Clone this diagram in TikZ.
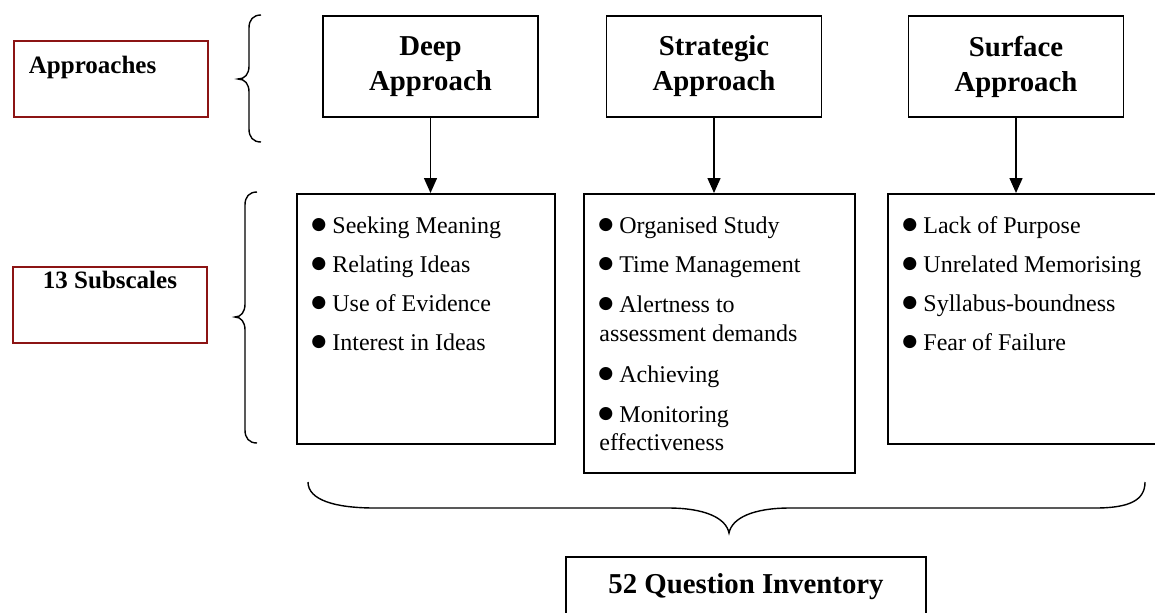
\documentclass[tikz,border=0pt]{standalone}
\usepackage{fontspec}
\setmainfont{Liberation Serif}
\newfontfamily\symfont{DejaVu Sans}
\usetikzlibrary{arrows.meta}
\definecolor{boxred}{RGB}{140,20,20}
\newcommand{\bul}{\raisebox{1.6pt}{\symfont\fontsize{8.6}{10}\selectfont ●}\hspace{3pt}}
\tikzset{
	headbox/.style={draw,line width=0.9pt,minimum width=107.5pt,minimum height=50.5pt,inner sep=0pt,align=center,font=\fontsize{14.4}{17.5}\selectfont\bfseries},
	listbox/.style={draw,line width=0.9pt,anchor=north west,inner sep=0pt},
	sidebox/.style={draw=boxred,line width=0.9pt,inner sep=0pt,font=\fontsize{12.5}{15}\selectfont\bfseries},
	item/.style={anchor=base west,inner sep=0pt,font=\fontsize{12}{14}\selectfont},
	brace/.style={line width=0.7pt},
	link/.style={line width=0.7pt,-{Triangle[width=6.5pt,length=7.5pt]}}
}
\begin{document}
\begin{tikzpicture}[x=0.5pt,y=-0.5pt]
	\useasboundingbox (0,0) rectangle (1155,612);
	\clip (0,0) rectangle (1155,612);
	% labels on the left
	\node[sidebox,anchor=base west,inner xsep=7.5pt,text width=82pt,align=left,text height=16pt,text depth=22pt] (approaches) at (13,73) {Approaches};
	\node[sidebox,anchor=base,minimum width=97pt,text height=10.5pt,text depth=27.5pt] (subscales) at (110,288) {13 Subscales};
	\draw[brace] (261,15) .. controls (253,15) and (249,20) .. (249,28) -- (249,66) .. controls (249,74) and (245,79) .. (238,79) .. controls (245,79) and (249,84) .. (249,92) -- (249,129) .. controls (249,137) and (253,142) .. (261,142);
	\draw[brace] (257,192) .. controls (249,192) and (245,197) .. (245,205) -- (245,304) .. controls (245,312) and (241,317) .. (235,317) .. controls (241,317) and (245,322) .. (245,330) -- (245,430) .. controls (245,438) and (249,443) .. (257,443);
	% approaches
	\node[headbox] (deep) at (430.5,66.5) {Deep\\Approach};
	\node[headbox] (strategic) at (714,66.5) {Strategic\\Approach};
	\node[headbox] (surface) at (1016,66.5) {Surface\\Approach};
	% subscale boxes
	\node[listbox,minimum width=129pt,minimum height=125pt] (deeplist) at (296,193) {};
	\node[listbox,minimum width=135.5pt,minimum height=139.5pt] (stratlist) at (583,193) {};
	\node[listbox,minimum width=139pt,minimum height=125pt] (surflist) at (887,193) {};
	\draw[link] (deep.south) -- (deep.south |- deeplist.north);
	\draw[link] (strategic.south) -- (strategic.south |- stratlist.north);
	\draw[link] (surface.south) -- (surface.south |- surflist.north);
	\node[item] (d1) at (311,233) {\bul Seeking Meaning};
	\node[item] (d2) at (311,272) {\bul Relating Ideas};
	\node[item] (d3) at (311,311) {\bul Use of Evidence};
	\node[item] (d4) at (311,350) {\bul Interest in Ideas};
	\node[item] (s1) at (598,233) {\bul Organised Study};
	\node[item] (s2) at (598,272) {\bul Time Management};
	\node[item] (s3) at (598,312) {\bul Alertness to};
	\node[item] (s4) at (599,341) {assessment demands};
	\node[item] (s5) at (598,382) {\bul Achieving};
	\node[item] (s6) at (598,422) {\bul Monitoring};
	\node[item] (s7) at (599,450) {effectiveness};
	\node[item] (f1) at (902,233) {\bul Lack of Purpose};
	\node[item] (f2) at (902,272) {\bul Unrelated Memorising};
	\node[item] (f3) at (902,311) {\bul Syllabus-boundness};
	\node[item] (f4) at (902,350) {\bul Fear of Failure};
	% inventory
	\draw[brace] (308,482) .. controls (308,500) and (335,508) .. (375,508) -- (668,508) .. controls (705,508) and (726,518) .. (729,533) .. controls (732,518) and (753,508) .. (790,508) -- (1095,508) .. controls (1130,508) and (1145,500) .. (1145,482);
	\node[draw,line width=0.9pt,anchor=base,inner sep=0pt,minimum width=180pt,text height=18pt,text depth=15pt,font=\fontsize{14.4}{17.5}\selectfont\bfseries] (inventory) at (746,593) {52 Question Inventory};
\end{tikzpicture}
\end{document}
